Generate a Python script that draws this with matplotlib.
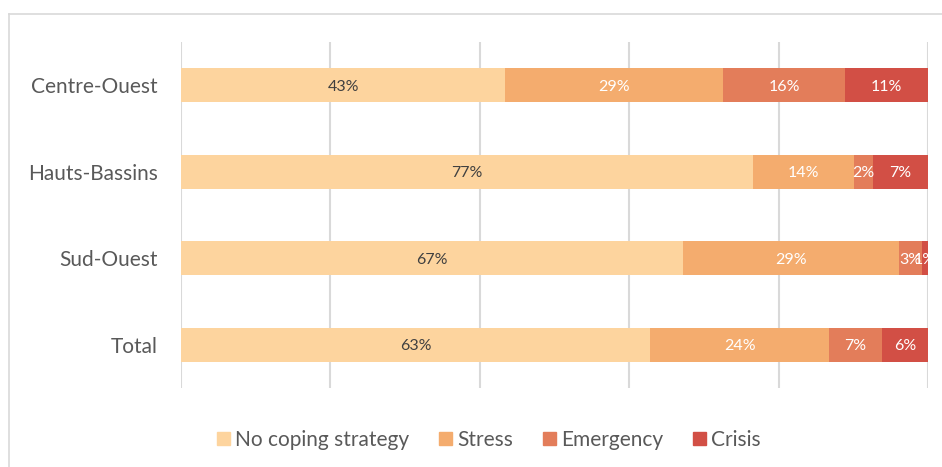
import matplotlib

matplotlib.use("Agg")
import matplotlib.pyplot as plt
from matplotlib.lines import Line2D
import numpy as np

plt.rcParams["font.family"] = ["Lato", "DejaVu Sans"]

# Share of households by coping strategy level (%)
regions = ["Centre-Ouest", "Hauts-Bassins", "Sud-Ouest", "Total"]
series_names = ["No coping strategy", "Stress", "Emergency", "Crisis"]
no_coping = [43.4, 76.6, 67.2, 62.8]
stress = [29.2, 13.5, 28.9, 24.0]
emergency = [16.3, 2.5, 3.1, 7.0]
crisis = [11.1, 7.4, 0.8, 6.2]

colors = ["#FDD49E", "#F4AC6E", "#E37D5A", "#D24F45"]
label_colors = ["#404040", "white", "white", "white"]

fig = plt.figure(figsize=(9.42, 4.67), dpi=100)
ax = fig.add_axes([0.1921, 0.1692, 0.7930, 0.7409])

y = np.arange(len(regions))
left = np.zeros(len(regions))
for vals, name, col, tcol in zip(
    [no_coping, stress, emergency, crisis], series_names, colors, label_colors
):
    vals = np.asarray(vals, dtype=float)
    ax.barh(y, vals, left=left, height=0.39, color=col, label=name, zorder=2)
    for xi, yi, v in zip(left + vals / 2, y, vals):
        ax.text(xi, yi + 0.02, "%d%%" % round(v), ha="center", va="center",
                color=tcol, fontsize=11.5, zorder=3)
    left += vals

ax.set_xlim(0, 100)
ax.set_ylim(len(regions) - 0.5, -0.5)
ax.set_xticks(np.arange(0, 101, 20))
ax.set_xticklabels([])
ax.set_yticks(y)
ax.set_yticklabels(regions, fontsize=15, color="#595959")
ax.tick_params(axis="both", length=0, pad=16.5)
ax.grid(axis="x", color="#D9D9D9", linewidth=1.5, zorder=0)
for s in ax.spines.values():
    s.set_visible(False)

handles = [plt.Rectangle((0, 0), 1, 1, color=c) for c in colors]
fig.legend(handles, series_names, loc="center", bbox_to_anchor=(0.519, 0.058),
           ncol=4, frameon=False, fontsize=15, handlelength=0.6,
           handleheight=0.6, handletextpad=0.25, columnspacing=1.45,
           labelcolor="#595959")

# chart frame (only left and top edges are visible in the crop)
fig.add_artist(Line2D([8.5 / 942, 8.5 / 942], [0, 1 - 13.5 / 467],
                      transform=fig.transFigure, color="#D9D9D9", linewidth=1.2))
fig.add_artist(Line2D([8.5 / 942, 1], [1 - 13.5 / 467, 1 - 13.5 / 467],
                      transform=fig.transFigure, color="#D9D9D9", linewidth=1.2))

fig.savefig("out.png", dpi=100)
